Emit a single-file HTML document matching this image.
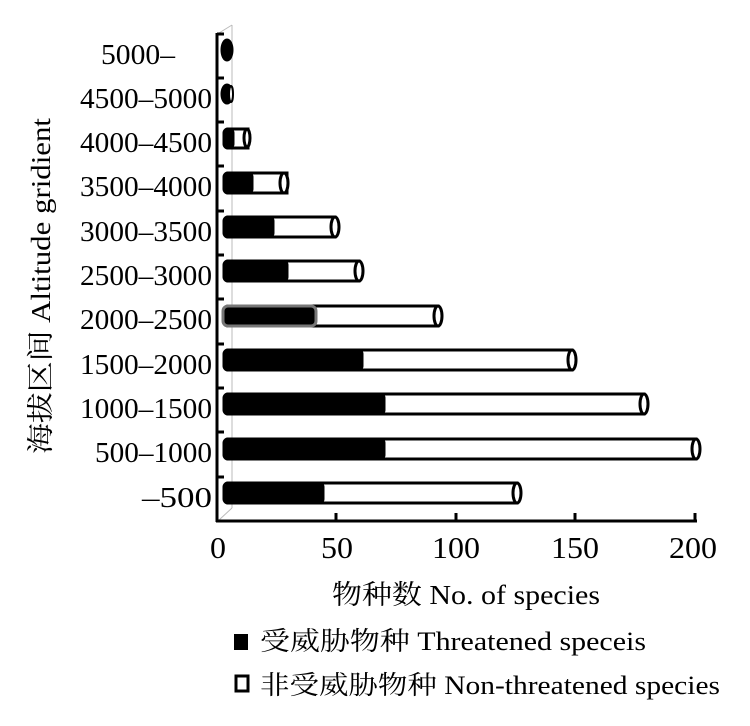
<!DOCTYPE html>
<html><head><meta charset="utf-8"><style>
html,body{margin:0;padding:0;background:#fff;}
svg{display:block;}
</style></head><body>
<svg width="750" height="726" viewBox="0 0 750 726" xmlns="http://www.w3.org/2000/svg" font-family="'Liberation Serif','Noto Serif CJK SC',serif">
<line x1="232" y1="25" x2="232" y2="508" stroke="#bbb" stroke-width="1"/>
<line x1="219" y1="520" x2="232" y2="508" stroke="#bbb" stroke-width="1"/>
<line x1="219" y1="33" x2="232" y2="25" stroke="#bbb" stroke-width="1"/>
<g stroke="#000" stroke-width="3">
<rect x="228" y="483" width="289" height="20" fill="#fff"/><ellipse cx="517" cy="493" rx="4" ry="10" fill="#fff"/>
<rect x="224" y="483" width="99" height="20" rx="4" fill="#000"/>
<rect x="228" y="439" width="468" height="20" fill="#fff"/><ellipse cx="696" cy="449" rx="4" ry="10" fill="#fff"/>
<rect x="224" y="439" width="160" height="20" rx="4" fill="#000"/>
<rect x="228" y="394" width="416" height="20" fill="#fff"/><ellipse cx="644" cy="404" rx="4" ry="10" fill="#fff"/>
<rect x="224" y="394" width="160" height="20" rx="4" fill="#000"/>
<rect x="228" y="350" width="344" height="20" fill="#fff"/><ellipse cx="572" cy="360" rx="4" ry="10" fill="#fff"/>
<rect x="224" y="350" width="138" height="20" rx="4" fill="#000"/>
<rect x="228" y="306" width="210" height="20" fill="#fff"/><ellipse cx="438" cy="316" rx="4" ry="10" fill="#fff"/>
<rect x="223" y="306" width="93" height="20" rx="5" fill="#000" stroke="#777"/>
<rect x="228" y="261" width="131" height="20" fill="#fff"/><ellipse cx="359" cy="271" rx="4" ry="10" fill="#fff"/>
<rect x="224" y="261" width="63" height="20" rx="4" fill="#000"/>
<rect x="228" y="217" width="107" height="20" fill="#fff"/><ellipse cx="335" cy="227" rx="4" ry="10" fill="#fff"/>
<rect x="224" y="217" width="49" height="20" rx="4" fill="#000"/>
<rect x="228" y="173" width="59" height="20" fill="#fff"/><ellipse cx="284" cy="183" rx="4" ry="10" fill="#fff"/>
<rect x="224" y="173" width="28" height="20" rx="4" fill="#000"/>
<rect x="228" y="129" width="20" height="19" fill="#fff"/><ellipse cx="247" cy="138" rx="3" ry="9" fill="#fff"/>
<rect x="224" y="129" width="9" height="19" rx="4" fill="#000"/>
<ellipse cx="227" cy="94" rx="5" ry="9" fill="#000"/><ellipse cx="231" cy="94" rx="2" ry="8" fill="#fff" stroke-width="2"/>
<ellipse cx="227" cy="50" rx="5" ry="10" fill="#000"/>
</g>
<g stroke="#000" stroke-width="3" fill="none">
<line x1="217" y1="33" x2="217" y2="522"/>
<line x1="216" y1="521" x2="697" y2="521"/>
<line x1="217" y1="34" x2="224" y2="34"/>
<line x1="217" y1="78" x2="224" y2="78"/>
<line x1="217" y1="122" x2="224" y2="122"/>
<line x1="217" y1="166" x2="224" y2="166"/>
<line x1="217" y1="211" x2="224" y2="211"/>
<line x1="217" y1="255" x2="224" y2="255"/>
<line x1="217" y1="299" x2="224" y2="299"/>
<line x1="217" y1="344" x2="224" y2="344"/>
<line x1="217" y1="388" x2="224" y2="388"/>
<line x1="217" y1="432" x2="224" y2="432"/>
<line x1="217" y1="477" x2="224" y2="477"/>
<line x1="336" y1="513" x2="336" y2="521"/>
<line x1="456" y1="513" x2="456" y2="521"/>
<line x1="575" y1="513" x2="575" y2="521"/>
<line x1="695" y1="513" x2="695" y2="521"/>
</g>
<g font-size="29" text-anchor="end" fill="#000">
<text x="175" y="64" textLength="74" lengthAdjust="spacingAndGlyphs">5000–</text>
<text x="212" y="108" textLength="132" lengthAdjust="spacingAndGlyphs">4500–5000</text>
<text x="212" y="152" textLength="132" lengthAdjust="spacingAndGlyphs">4000–4500</text>
<text x="212" y="196" textLength="132" lengthAdjust="spacingAndGlyphs">3500–4000</text>
<text x="212" y="241" textLength="132" lengthAdjust="spacingAndGlyphs">3000–3500</text>
<text x="212" y="285" textLength="132" lengthAdjust="spacingAndGlyphs">2500–3000</text>
<text x="212" y="329" textLength="132" lengthAdjust="spacingAndGlyphs">2000–2500</text>
<text x="212" y="374" textLength="132" lengthAdjust="spacingAndGlyphs">1500–2000</text>
<text x="212" y="418" textLength="132" lengthAdjust="spacingAndGlyphs">1000–1500</text>
<text x="212" y="462" textLength="117" lengthAdjust="spacingAndGlyphs">500–1000</text>
<text x="212" y="507" textLength="70" lengthAdjust="spacingAndGlyphs">–500</text>
</g>
<g font-size="31" text-anchor="middle" fill="#000">
<text x="218" y="558" textLength="16" lengthAdjust="spacingAndGlyphs">0</text>
<text x="337" y="558" textLength="32" lengthAdjust="spacingAndGlyphs">50</text>
<text x="456" y="558" textLength="48" lengthAdjust="spacingAndGlyphs">100</text>
<text x="575" y="558" textLength="48" lengthAdjust="spacingAndGlyphs">150</text>
<text x="693" y="558" textLength="48" lengthAdjust="spacingAndGlyphs">200</text>
</g>
<text x="466" y="604" font-size="27" text-anchor="middle" textLength="268" lengthAdjust="spacingAndGlyphs">物种数 No. of species</text>
<text transform="translate(50,286) rotate(-90)" font-size="27" text-anchor="middle" textLength="336" lengthAdjust="spacingAndGlyphs">海拔区间  Altitude  gridient</text>
<rect x="234" y="634" width="14" height="16" fill="#000"/>
<text x="260" y="650" font-size="26" textLength="386" lengthAdjust="spacingAndGlyphs">受威胁物种 Threatened speceis</text>
<rect x="236" y="676" width="12" height="15" fill="#fff" stroke="#000" stroke-width="3"/>
<text x="260" y="694" font-size="26" textLength="460" lengthAdjust="spacingAndGlyphs">非受威胁物种 Non-threatened species</text>
</svg>
</body></html>
